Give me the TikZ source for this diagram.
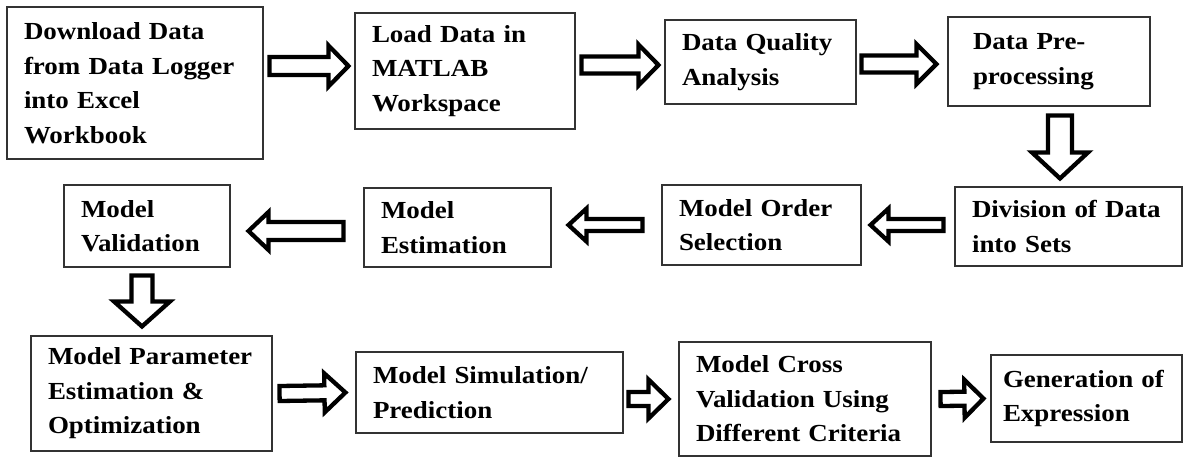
\documentclass[tikz,border=0pt]{standalone}
\usepackage{fontspec}
\setmainfont{Liberation Serif}[FakeStretch=1.1]
\usetikzlibrary{calc}

\begin{document}
\begin{tikzpicture}[x=1pt, y=-1pt,
    box/.style={draw=black!80, line width=1.1pt, align=left, inner xsep=17pt,
                inner ysep=0pt, font=\fontsize{24.5}{34.5}\selectfont\bfseries},
    % hollow block arrow: shaft half width, head half width, head length
    blk/.style n args={3}{draw=black, fill=white, line width=4.3pt, line join=miter,
        to path={($(\tikztostart)!#1!90:(\tikztotarget)$)
          -- ($(\tikztotarget)!#3!(\tikztostart)!#1!-90:(\tikztostart)$)
          -- ($(\tikztotarget)!#3!(\tikztostart)!#2!-90:(\tikztostart)$)
          -- (\tikztotarget)
          -- ($(\tikztotarget)!#3!(\tikztostart)!#2!90:(\tikztostart)$)
          -- ($(\tikztotarget)!#3!(\tikztostart)!#1!90:(\tikztostart)$)
          -- ($(\tikztostart)!#1!-90:(\tikztotarget)$) -- cycle}}]
    \useasboundingbox[fill=white] (0,0) rectangle (1184,459);

    % first row
    \node[box, text width=222pt, minimum height=152pt] (DL) at (135,83)    {Download Data\\from Data Logger\\into Excel\\Workbook};
    \node[box, text width=186pt, minimum height=116pt] (LD) at (465,71)    {Load Data in\\MATLAB\\Workspace};
    \node[box, text width=157pt, minimum height=84pt]  (DQ) at (760.5,62)  {Data Quality\\Analysis};
    \node[box, inner xsep=25pt, text width=152pt, minimum height=89pt] (PP) at (1049,61.5) {Data Pre-\\processing};

    % second row
    \node[box, text width=193pt, minimum height=79pt]  (DS) at (1068.5,226.5) {Division of Data\\into Sets};
    \node[box, text width=165pt, minimum height=80pt]  (MO) at (761.5,225)    {Model Order\\Selection};
    \node[box, text width=153pt, minimum height=79pt]  (ME) at (457.5,227.5)  {Model\\Estimation};
    \node[box, text width=132pt, minimum height=82pt]  (MV) at (147,226)      {Model\\Validation};

    % third row
    \node[box, text width=207pt, minimum height=115pt] (PE) at (151.5,393.5)  {Model Parameter\\Estimation \&\\Optimization};
    \node[box, text width=233pt, minimum height=81pt]  (MS) at (489.5,392.5)  {Model Simulation/\\Prediction};
    \node[box, text width=218pt, minimum height=114pt] (CV) at (805,399)      {Model Cross\\Validation Using\\Different Criteria};
    \node[box, inner xsep=12pt, text width=167pt, minimum height=87pt] (GE) at (1086.5,398.5) {Generation of\\Expression};

    \draw[blk={9pt}{20.5pt}{20pt}]   ([xshift=6pt,yshift=17pt]DL.east)  to ([xshift=-6pt,yshift=5pt]LD.west);
    \draw[blk={8.5pt}{20.5pt}{20pt}] ([xshift=6pt,yshift=6pt]LD.east)   to ([xshift=-6pt,yshift=-3pt]DQ.west);
    \draw[blk={8.5pt}{20pt}{20pt}]   ([xshift=5pt,yshift=-2pt]DQ.east)  to ([xshift=-11pt,yshift=-2.5pt]PP.west);
    \draw[blk={12pt}{28pt}{26pt}]    ([xshift=11pt,yshift=-9pt]PP.south) to ([xshift=-8.5pt,yshift=8pt]DS.north);

    \draw[blk={6pt}{16.5pt}{18pt}]   ([xshift=-11pt,yshift=1.5pt]DS.west) to ([xshift=9pt]MO.east);
    \draw[blk={6pt}{16.5pt}{18pt}]   ([xshift=-19pt]MO.west)             to ([xshift=17pt,yshift=2.5pt]ME.east);
    \draw[blk={9pt}{19pt}{20pt}]     ([xshift=-20pt,yshift=-3.5pt]ME.west) to ([xshift=18pt,yshift=-5pt]MV.east);
    \draw[blk={10.5pt}{28pt}{25pt}]  ([xshift=-5pt,yshift=-8pt]MV.south) to ([xshift=-9.5pt,yshift=9pt]PE.north);

    \draw[blk={7.5pt}{19.5pt}{21pt}] ([xshift=7pt]PE.east)               to ([xshift=-10pt]MS.west);
    \draw[blk={7pt}{19.5pt}{20pt}]   ([xshift=5pt,yshift=-6.5pt]MS.east) to ([xshift=-10pt]CV.west);
    \draw[blk={7pt}{19pt}{19pt}]     ([xshift=9pt]CV.east)               to ([xshift=-7pt]GE.west);
\end{tikzpicture}
\end{document}
